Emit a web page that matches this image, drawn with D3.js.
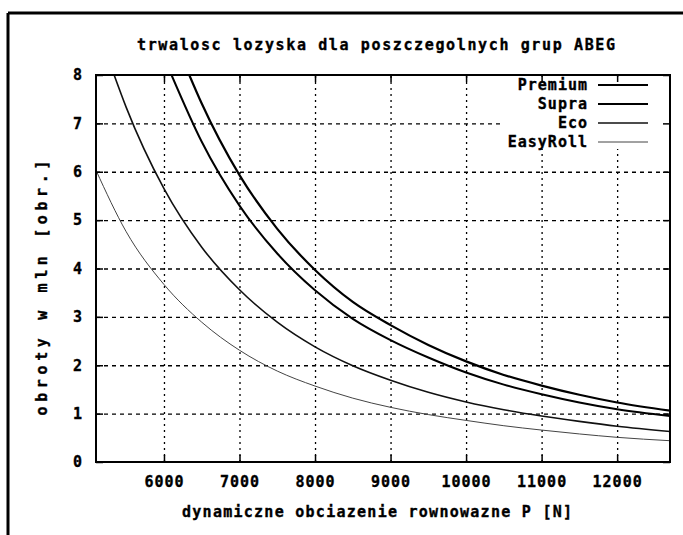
<!DOCTYPE html>
<html>
<head>
<meta charset="utf-8">
<script src="https://cdn.jsdelivr.net/npm/d3@7"></script>
<style>
  body { margin: 0; background: white; }
  text { font-family: "DejaVu Sans Mono", monospace; font-weight: bold; font-size: 15px; fill: black; stroke: black; stroke-width: 0.35px; }
</style>
</head>
<body>
<svg id="chart" width="683" height="535"></svg>
<script>
// values (L in mln rev, P in N)
var seriesNames = ["Premium", "Supra", "Eco", "EasyRoll"];

var loadsPremium = [6335, 6500, 7000, 7500, 8000, 8500, 9000, 9500, 10000, 10500, 11000, 11500, 12000, 12700];
var lifePremium  = [8.0, 7.41, 5.93, 4.82, 3.97, 3.31, 2.83, 2.42, 2.08, 1.80, 1.58, 1.39, 1.23, 1.06];

var loadsSupra = [6100, 6500, 7000, 7500, 8000, 8500, 9000, 9500, 10000, 10500, 11000, 11500, 12000, 12700];
var lifeSupra  = [8.0, 6.62, 5.30, 4.31, 3.55, 2.96, 2.52, 2.16, 1.85, 1.60, 1.40, 1.23, 1.09, 0.95];

var loadsEco = [5340, 5500, 6000, 6500, 7000, 7500, 8000, 8500, 9000, 9500, 10000, 10500, 11000, 11500, 12000, 12700];
var lifeEco  = [8.0, 7.33, 5.65, 4.44, 3.56, 2.89, 2.38, 1.99, 1.69, 1.44, 1.24, 1.08, 0.95, 0.84, 0.74, 0.63];

var loadsEasyRoll = [5100, 5500, 6000, 6500, 7000, 7500, 8000, 8500, 9000, 9500, 10000, 10500, 11000, 11500, 12000, 12700];
var lifeEasyRoll  = [6.03, 4.76, 3.67, 2.89, 2.31, 1.88, 1.57, 1.32, 1.13, 0.98, 0.86, 0.75, 0.66, 0.58, 0.51, 0.44];

var xTicks = [6000, 7000, 8000, 9000, 10000, 11000, 12000];
var yTicks = [0, 1, 2, 3, 4, 5, 6, 7, 8];

var titleText = "trwalosc lozyska dla poszczegolnych grup ABEG";
var xLabelText = "dynamiczne obciazenie rownowazne P [N]";
var yLabelText = "obroty w mln [obr.]";

// plot box (window.top is read-only, hence the p prefix)
var pLeft = 96, pRight = 670, pTop = 75, pBottom = 462;
var lineWidths = [2.2, 2, 1.6, 1];
var lineColors = ["#000", "#000", "#111", "#444"];

var svg = d3.select("#chart");

var x = d3.scaleLinear().domain([5100, 12700]).range([pLeft, pRight]);
var y = d3.scaleLinear().domain([0, 8]).range([pBottom, pTop]);

// outer frame of the page (only top and left survive in the scan)
svg.append("line").attr("x1", 8).attr("x2", 683).attr("y1", 13).attr("y2", 13)
    .attr("stroke", "black").attr("stroke-width", 3);
svg.append("line").attr("x1", 8).attr("x2", 8).attr("y1", 13).attr("y2", 535)
    .attr("stroke", "black").attr("stroke-width", 3);

// grid
svg.append("g")
    .attr("transform", "translate(0," + pBottom + ")")
    .call(d3.axisBottom(x).tickValues(xTicks).tickSize(-(pBottom - pTop)).tickFormat(""))
    .call(function(g) {
        g.select(".domain").remove();
        g.selectAll("line").attr("stroke", "black").attr("stroke-width", 1.3).attr("stroke-dasharray", "2,4");
    });
svg.append("g")
    .attr("transform", "translate(" + pLeft + ",0)")
    .call(d3.axisLeft(y).tickValues(yTicks.slice(1, 8)).tickSize(-(pRight - pLeft)).tickFormat(""))
    .call(function(g) {
        g.select(".domain").remove();
        g.selectAll("line").attr("stroke", "black").attr("stroke-width", 1.3).attr("stroke-dasharray", "4,4");
    });

// legend box hides the grid behind it
svg.append("rect").attr("x", 503).attr("y", pTop + 2).attr("width", pRight - 505).attr("height", 72)
    .attr("fill", "white");

// curves
var lineGen = d3.line()
    .x(function(d) { return x(d[0]); })
    .y(function(d) { return y(d[1]); })
    .curve(d3.curveMonotoneX);

svg.append("clipPath").attr("id", "plotclip")
    .append("rect").attr("x", pLeft).attr("y", pTop).attr("width", pRight - pLeft).attr("height", pBottom - pTop);

var allLoads = [loadsPremium, loadsSupra, loadsEco, loadsEasyRoll];
var allLife = [lifePremium, lifeSupra, lifeEco, lifeEasyRoll];

seriesNames.forEach(function(name, i) {
    var pts = d3.zip(allLoads[i], allLife[i]);
    svg.append("path")
        .datum(pts)
        .attr("clip-path", "url(#plotclip)")
        .attr("fill", "none")
        .attr("stroke", lineColors[i])
        .attr("stroke-width", lineWidths[i])
        .attr("d", lineGen);
});

// axes with inward ticks on all four sides
function styleAxis(g) {
    g.select(".domain").remove();
    g.selectAll("line").attr("stroke", "black").attr("stroke-width", 1.5);
    g.selectAll("text").attr("font-size", null).attr("font-family", null).attr("letter-spacing", "1px");
}
svg.append("g")
    .attr("transform", "translate(0," + pBottom + ")")
    .call(d3.axisBottom(x).tickValues(xTicks).tickSize(-7).tickPadding(14).tickFormat(d3.format("d")))
    .call(styleAxis);
svg.append("g")
    .attr("transform", "translate(0," + pTop + ")")
    .call(d3.axisTop(x).tickValues(xTicks).tickSize(-7).tickFormat(""))
    .call(styleAxis);
svg.append("g")
    .attr("transform", "translate(" + pLeft + ",0)")
    .call(d3.axisLeft(y).tickValues(yTicks).tickSize(-7).tickPadding(13).tickFormat(d3.format("d")))
    .call(styleAxis);
svg.append("g")
    .attr("transform", "translate(" + pRight + ",0)")
    .call(d3.axisRight(y).tickValues(yTicks).tickSize(-7).tickFormat(""))
    .call(styleAxis);

// plot border
svg.append("rect").attr("x", pLeft).attr("y", pTop).attr("width", pRight - pLeft).attr("height", pBottom - pTop)
    .attr("fill", "none").attr("stroke", "black").attr("stroke-width", 2);

// legend
var legend = svg.append("g");
seriesNames.forEach(function(name, i) {
    var ly = 85 + i * 19;
    legend.append("text")
        .attr("x", 588).attr("y", ly).attr("dy", "0.35em")
        .attr("text-anchor", "end")
        .attr("letter-spacing", "1px")
        .text(name);
    legend.append("line")
        .attr("x1", 598).attr("x2", 648).attr("y1", ly).attr("y2", ly)
        .attr("stroke", lineColors[i]).attr("stroke-width", lineWidths[i]);
});

// titles
svg.append("text")
    .attr("x", 376).attr("y", 45).attr("dy", "0.35em")
    .attr("text-anchor", "middle")
    .attr("textLength", 478).attr("lengthAdjust", "spacing")
    .text(titleText);
svg.append("text")
    .attr("x", 377).attr("y", 512).attr("dy", "0.35em")
    .attr("text-anchor", "middle")
    .attr("textLength", 390).attr("lengthAdjust", "spacing")
    .text(xLabelText);
svg.append("text")
    .attr("transform", "translate(42,288) rotate(-90)")
    .attr("dy", "0.35em")
    .attr("text-anchor", "middle")
    .attr("textLength", 255).attr("lengthAdjust", "spacing")
    .text(yLabelText);
</script>
</body>
</html>
